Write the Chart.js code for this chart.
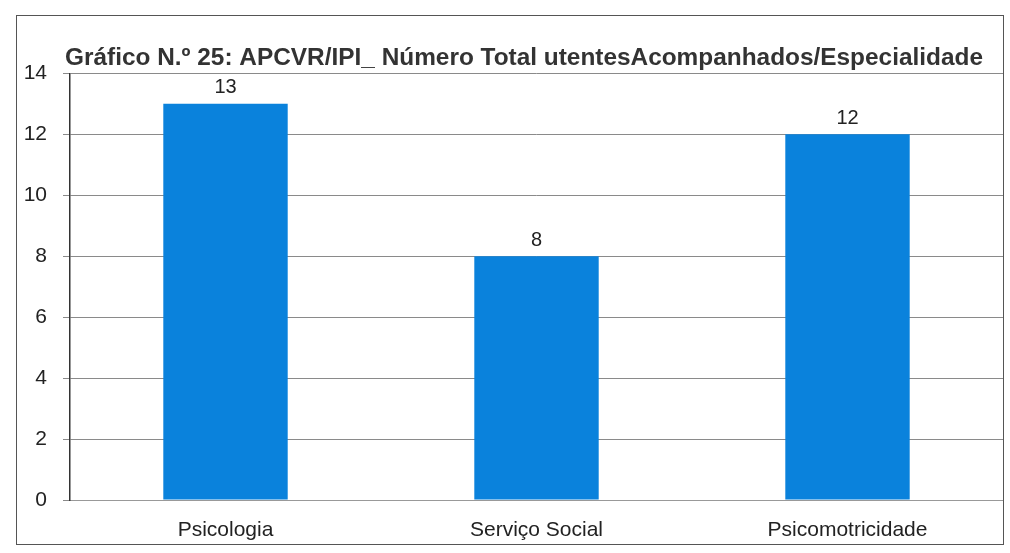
<!DOCTYPE html>
<html><head><meta charset="utf-8">
<script src="https://cdn.jsdelivr.net/npm/chart.js@4/dist/chart.umd.min.js"></script>
<style>
html,body{margin:0;padding:0;background:#fff;}
#box{position:absolute;left:16px;top:15px;width:986px;height:528px;border:1px solid #555;}
canvas{display:block;}
</style></head>
<body>
<div id="box"><canvas id="c" width="986" height="528"></canvas></div>
<script>
const categories = ["Psicologia", "Serviço Social", "Psicomotricidade"];
const values = [13, 8, 12];
const yTicks = [0, 2, 4, 6, 8, 10, 12, 14];
const titleText = "Gráfico N.º 25: APCVR/IPI_ Número Total utentesAcompanhados/Especialidade";

const labelPlugin = {
  id: 'valLabels',
  afterLayout(chart) {
    if (chart.titleBlock) { chart.titleBlock.left += 28; }
  },
  afterDatasetsDraw(chart) {
    const ctx = chart.ctx;
    const meta = chart.getDatasetMeta(0);
    ctx.save();
    ctx.font = '20px "Liberation Sans", sans-serif';
    ctx.fillStyle = '#222';
    ctx.textAlign = 'center';
    ctx.textBaseline = 'bottom';
    meta.data.forEach((el, i) => {
      ctx.fillText(String(values[i]), el.x, el.y - 6);
    });
    ctx.restore();
  }
};

new Chart(document.getElementById('c'), {
  type: 'bar',
  data: {
    labels: categories,
    datasets: [{
      data: values,
      backgroundColor: '#0A82DC',
      borderWidth: 0,
      barPercentage: 0.40,
      categoryPercentage: 1.0
    }]
  },
  options: {
    responsive: false,
    animation: false,
    layout: { padding: { left: 0, right: 0, top: 0, bottom: 0 } },
    plugins: {
      legend: { display: false },
      tooltip: { enabled: false },
      title: {
        display: true,
        text: titleText,
        color: '#333',
        font: { family: '"Liberation Sans", sans-serif', size: 24.4, weight: 'bold' },
        padding: { top: 28, bottom: 0 }
      }
    },
    scales: {
      x: {
        grid: { display: false },
        border: { display: true, color: '#999' },
        ticks: {
          color: '#222',
          font: { family: '"Liberation Sans", sans-serif', size: 21 },
          padding: 10
        },
        afterFit(s) { s.height = 44; }
      },
      y: {
        min: 0, max: 14,
        afterBuildTicks(s) { s.ticks = yTicks.map(v => ({ value: v })); },
        grid: { color: '#8a8a8a', lineWidth: 1, tickLength: 7, drawTicks: true },
        border: { display: true, color: '#333', width: 1.5 },
        ticks: {
          color: '#222',
          font: { family: '"Liberation Sans", sans-serif', size: 21 },
          padding: 16
        },
        afterFit(s) { s.width = 53; }
      }
    }
  },
  plugins: [labelPlugin]
});
</script>
</body></html>
